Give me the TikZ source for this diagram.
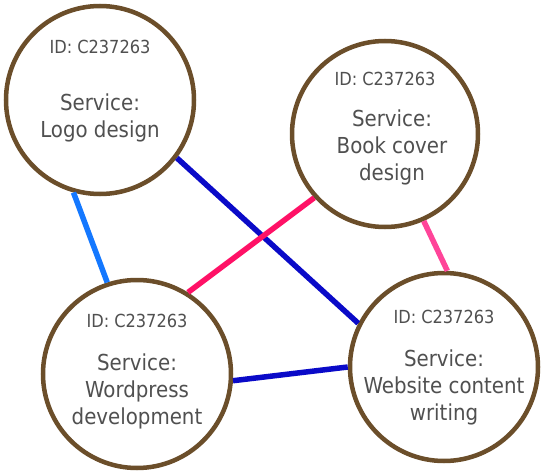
\documentclass[tikz,border=0pt]{standalone}
\usepackage{fontspec}
\setmainfont{DejaVu Sans Condensed}
\definecolor{ringbrown}{HTML}{6B4E2A}
\definecolor{txtgray}{HTML}{505050}
\definecolor{lblue}{HTML}{1478FF}
\definecolor{dblue}{HTML}{0A0AC8}
\definecolor{redpink}{HTML}{FF1166}
\definecolor{pink}{HTML}{FF4499}
\tikzset{
  ring/.style={circle, draw=ringbrown, line width=4.5pt, fill=white, inner sep=0pt},
  idtext/.style={anchor=base, inner sep=0pt, text=txtgray, font=\fontsize{18}{22}\selectfont},
  svctext/.style={anchor=base, inner sep=0pt, text=txtgray, align=center, font=\fontsize{22}{27}\selectfont},
  link/.style={line width=5.5pt}
}
\begin{document}
\begin{tikzpicture}[x=1pt,y=-1pt]
\useasboundingbox (0,0) rectangle (541,471);
\node[ring, minimum size=188pt] (logo) at (100,100) {};
\node[ring, minimum size=186pt] (book) at (385,134) {};
\node[ring, minimum size=188pt] (wp) at (137,374) {};
\node[ring, minimum size=188pt] (web) at (444,367) {};
\draw[link, lblue] (logo.254.6) -- (wp.108);
\draw[link, dblue] (logo.-37.8) -- (web.153);
\draw[link, redpink] (wp.58.4) -- (book.222.9);
\draw[link, pink] (book.-66.4) -- (web.88);
\draw[link, dblue] (wp.-4.3) -- (web.180);
% texts (base anchor = baseline of last line)
\node[idtext] (logoid) at (100,53) {ID: C237263};
\node[svctext] (logosvc) at (100,137) {Service:\\Logo design};
\node[idtext] (bookid) at (385,85) {ID: C237263};
\node[svctext] (booksvc) at (392,180) {Service:\\Book cover\\design};
\node[idtext] (wpid) at (137,327) {ID: C237263};
\node[svctext] (wpsvc) at (137,424) {Service:\\Wordpress\\development};
\node[idtext] (webid) at (444,323) {ID: C237263};
\node[svctext] (websvc) at (444,420) {Service:\\Website content\\writing};
\end{tikzpicture}
\end{document}
